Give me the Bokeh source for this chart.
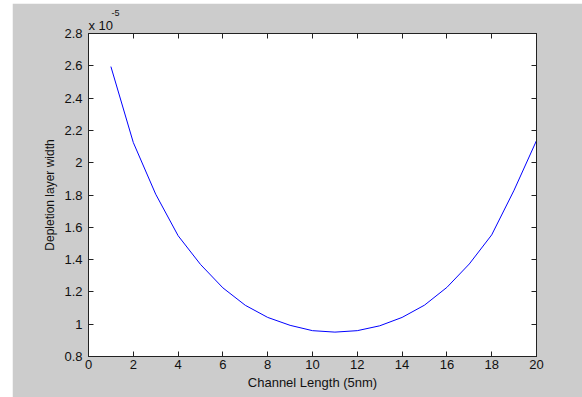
from bokeh.plotting import figure
from bokeh.models import LinearAxis, FixedTicker, Title, Spacer
from bokeh.layouts import row, column
from bokeh.embed import file_html
from bokeh.resources import INLINE

# Data (depletion layer width shown in units of 1e-5)
channel_length = [1, 2, 3, 4, 5, 6, 7, 8, 9, 10, 11, 12, 13, 14, 15, 16, 17, 18, 19, 20]
depletion_width = [2.595, 2.125, 1.805, 1.548, 1.370, 1.225, 1.117, 1.042, 0.993, 0.960,
                   0.951, 0.960, 0.990, 1.042, 1.118, 1.228, 1.373, 1.553, 1.830, 2.137]

x_ticks = [0, 2, 4, 6, 8, 10, 12, 14, 16, 18, 20]
x_tick_labels = ["0", "2", "4", "6", "8", "10", "12", "14", "16", "18", "20"]
y_ticks = [0.8, 1.0, 1.2, 1.4, 1.6, 1.8, 2.0, 2.2, 2.4, 2.6, 2.8]
y_tick_labels = ["0.8", "1", "1.2", "1.4", "1.6", "1.8", "2", "2.2", "2.4", "2.6", "2.8"]

FONT = "Liberation Sans"
GRAY = "#cccccc"
INK = "#111111"

p = figure(width=570, height=394, output_backend="svg", toolbar_location=None,
           x_range=(0, 20), y_range=(0.8, 2.8),
           min_border_left=76, min_border_right=46, min_border_top=30, min_border_bottom=41,
           x_axis_label="Channel Length (5nm)", y_axis_label="Depletion layer width")
p.border_fill_color = GRAY
p.background_fill_color = "white"
p.outline_line_color = "#222222"
p.grid.visible = False

p.line(channel_length, depletion_width, line_color="#0000ff", line_width=1)

bottom_axis = p.below[0]
left_axis = p.left[0]
top_axis = LinearAxis()
right_axis = LinearAxis()
p.add_layout(top_axis, "above")
p.add_layout(right_axis, "right")

for ax, ticks, labels in [(bottom_axis, x_ticks, x_tick_labels), (top_axis, x_ticks, x_tick_labels),
                          (left_axis, y_ticks, y_tick_labels), (right_axis, y_ticks, y_tick_labels)]:
    ax.ticker = FixedTicker(ticks=ticks)
    ax.major_label_overrides = dict(zip(ticks, labels))
    ax.major_tick_in = 5
    ax.major_tick_out = 0
    ax.minor_tick_line_color = None
    ax.axis_line_color = "#222222"
    ax.major_tick_line_color = "#222222"
    ax.major_label_text_font = FONT
    ax.major_label_text_font_size = "13px"
    ax.major_label_text_color = INK
    ax.axis_label_text_font = FONT
    ax.axis_label_text_font_style = "normal"
    ax.axis_label_text_color = INK

for ax in (top_axis, right_axis):
    ax.major_label_text_alpha = 0
    ax.major_label_text_font_size = "1px"
    ax.major_label_standoff = 0

bottom_axis.major_label_standoff = 3
bottom_axis.axis_label_standoff = 3
bottom_axis.axis_label_text_font_size = "13px"
left_axis.major_label_standoff = 6
left_axis.axis_label_standoff = 4
left_axis.axis_label_text_font_size = "12px"

# exponent marker "x 10^-5" above the top-left corner
p.add_layout(Title(text="x 10", align="left", offset=0, standoff=2,
                   text_font=FONT, text_font_size="13px", text_font_style="normal",
                   text_color=INK), "above")
p.add_layout(Title(text="-5", align="left", offset=23, standoff=-3,
                   text_font=FONT, text_font_size="9px", text_font_style="normal",
                   text_color=INK), "above")

layout = column(Spacer(width=582, height=3), row(Spacer(width=12, height=394), p))

open("out.html", "w").write(file_html(layout, INLINE))
